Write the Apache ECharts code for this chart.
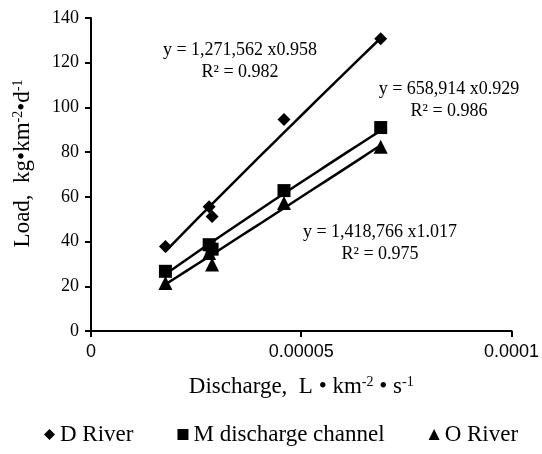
<!DOCTYPE html>
<html>
<head>
<meta charset="utf-8">
<script src="https://cdn.jsdelivr.net/npm/echarts@6/dist/echarts.min.js"></script>
<style>
  html, body { margin: 0; padding: 0; background: #fff; }
  #main { width: 542px; height: 454px; }
</style>
</head>
<body>
<div id="main"></div>
<script>
// discharge values (L/km2/s) for the sampled events
var discharge = [0.0000177, 0.0000281, 0.0000288, 0.0000459, 0.0000689];
// loads kg/km2/d
var dRiver = [37.8, 55.6, 51.2, 94.6, 130.7];
var mChannel = [26.7, 38.6, 36.6, 62.8, 91.0];
var oRiver = [21.5, 34.9, 29.7, 57.2, 82.4];

var seriesNames = ['D River', 'M discharge channel', 'O River'];
var symbols = ['diamond', 'rect', 'triangle'];
var symbolSizes = [13, 13, 14];

// power trend lines printed on the chart: y = a * x^b
var trendA = [1271562, 658914, 1418766];
var trendB = [0.958, 0.929, 1.017];
var trendR2 = ['0.982', '0.986', '0.975'];

var xTicks = ['0', '0.00005', '0.0001'];

var chart = echarts.init(document.getElementById('main'));
var serif = '"Liberation Serif", "Times New Roman", serif';
var sans = '"Liberation Sans", Arial, sans-serif';

function pairs(ys) {
  return discharge.map(function (x, i) { return [x, ys[i]]; });
}

function trend(k) {
  var x0 = Math.min.apply(null, discharge);
  var x1 = Math.max.apply(null, discharge);
  var pts = [];
  for (var i = 0; i <= 20; i++) {
    var x = x0 + (x1 - x0) * i / 20;
    pts.push([x, trendA[k] * Math.pow(x, trendB[k])]);
  }
  return pts;
}

var allY = [dRiver, mChannel, oRiver];
var series = [];
allY.forEach(function (ys, k) {
  series.push({
    name: seriesNames[k],
    type: 'scatter',
    symbol: symbols[k],
    symbolSize: symbolSizes[k],
    itemStyle: { color: '#000', opacity: 1 },
    data: pairs(ys),
    z: 3
  });
  series.push({
    name: 'trend' + k,
    type: 'line',
    showSymbol: false,
    symbol: 'none',
    lineStyle: { color: '#000', width: 2.5 },
    data: trend(k),
    z: 2,
    silent: true
  });
});

function eqText(k) {
  var a = trendA[k].toLocaleString('en-US');
  return 'y = ' + a + ' x' + trendB[k].toFixed(3);
}

var labels = [
  { x: 240, y: 50, k: 0 },
  { x: 449, y: 89, k: 1 },
  { x: 380, y: 232, k: 2 }
];
var graphic = [];
labels.forEach(function (l) {
  graphic.push({
    type: 'text', x: l.x, y: l.y, silent: true,
    style: { text: eqText(l.k), textAlign: 'center', textVerticalAlign: 'middle', font: '18px ' + serif, fill: '#000' }
  });
  graphic.push({
    type: 'text', x: l.x, y: l.y + 22, silent: true,
    style: { text: 'R² = ' + trendR2[l.k], textAlign: 'center', textVerticalAlign: 'middle', font: '18px ' + serif, fill: '#000' }
  });
});

var nameRich = {
  n: { fontFamily: serif, fontSize: 23, color: '#000' },
  s: { fontFamily: serif, fontSize: 14, color: '#000', verticalAlign: 'top', padding: [0, 0, 9, 0] }
};

var option = {
  backgroundColor: '#ffffff',
  animation: false,
  textStyle: { fontFamily: serif, color: '#000' },
  grid: { left: 91, right: 27, top: 18, bottom: 123 },
  legend: {
    data: seriesNames,
    bottom: 3,
    left: 39,
    itemGap: 44,
    itemWidth: 11,
    itemHeight: 11,
    textStyle: { fontFamily: serif, fontSize: 23, color: '#000' }
  },
  xAxis: {
    type: 'value',
    min: 0,
    max: 0.0001,
    interval: 0.00005,
    name: '{n|Discharge,  L • km}{s|-2}{n| • s}{s|-1}',
    nameLocation: 'middle',
    nameGap: 44,
    nameTextStyle: { rich: nameRich },
    axisLine: { lineStyle: { color: '#000', width: 2 } },
    axisTick: { show: true, length: 6, lineStyle: { color: '#000', width: 2 } },
    splitLine: { show: false },
    axisLabel: {
      fontFamily: sans, fontSize: 18, color: '#000', margin: 12,
      formatter: function (v, i) { return xTicks[i]; }
    }
  },
  yAxis: {
    type: 'value',
    min: 0,
    max: 140,
    interval: 20,
    name: '{n|Load,  kg•km}{s|-2}{n|•d}{s|-1}',
    nameLocation: 'middle',
    nameGap: 57,
    nameTextStyle: { rich: nameRich, padding: [0, 0, 0, 22] },
    axisLine: { show: true, lineStyle: { color: '#000', width: 2 } },
    axisTick: { show: true, length: 6, lineStyle: { color: '#000', width: 2 } },
    splitLine: { show: false },
    axisLabel: { fontFamily: serif, fontSize: 18, color: '#000', margin: 12 }
  },
  graphic: graphic,
  series: series
};

chart.setOption(option);
</script>
</body>
</html>
